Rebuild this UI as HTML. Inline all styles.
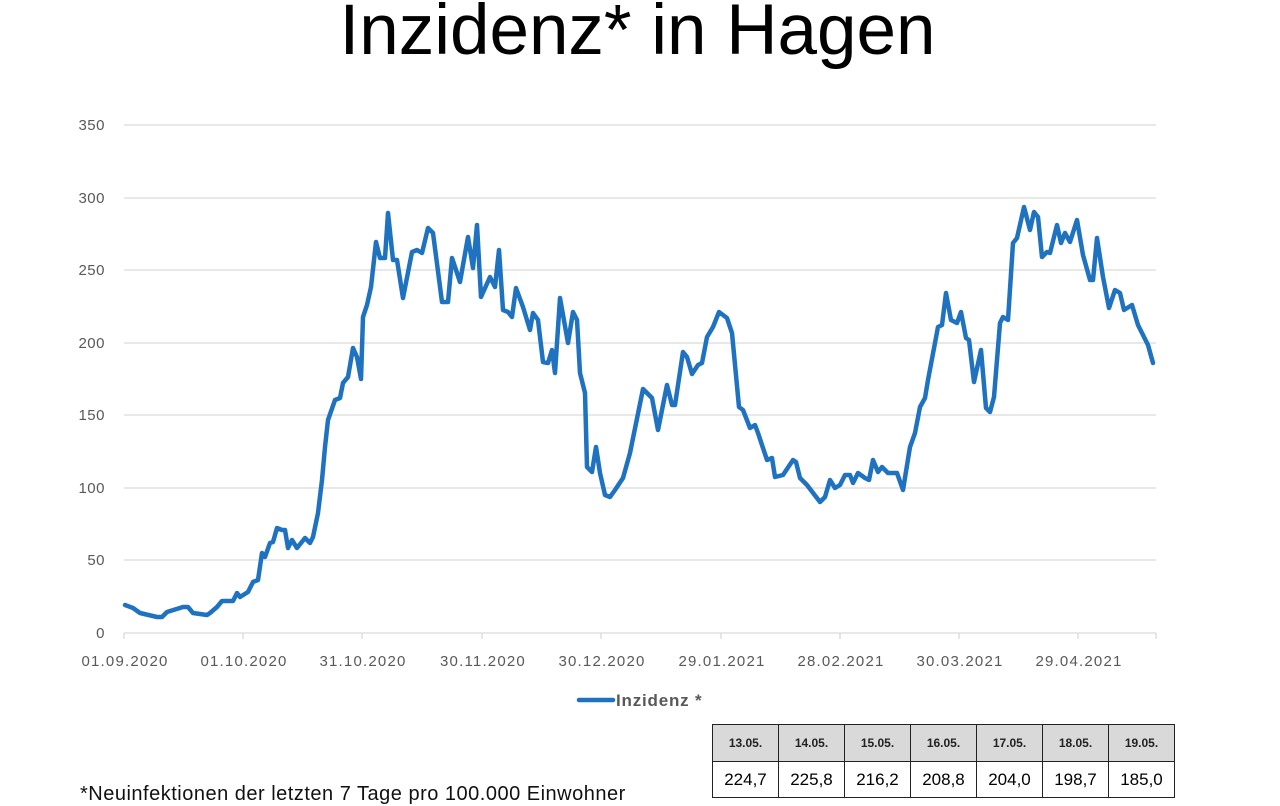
<!DOCTYPE html>
<html><head><meta charset="utf-8"><style>
html,body{margin:0;padding:0;background:#fff;width:1280px;height:800px;overflow:hidden;font-family:"Liberation Sans",sans-serif}
.title{position:absolute;left:0;width:1275px;text-align:center;top:-10px;font-size:71px;color:#000}
table{position:absolute;left:712px;top:724px;border-collapse:collapse;font-size:15px}
td{border:1.5px solid #222;width:65px;text-align:center;padding:0}
tr.h td{background:#d9d9d9;font-size:12px;font-weight:bold;height:36px;color:#222}
tr.v td{height:35px;font-size:17px}
.foot{position:absolute;left:80px;top:783px;font-size:20px;color:#111;letter-spacing:0.5px}
</style></head><body>
<div class="title">Inzidenz* in Hagen</div>
<svg width="1280" height="800" style="position:absolute;left:0;top:0">
<g stroke="#d9d9d9" stroke-width="1.3">
<line x1="124" x2="1156" y1="125" y2="125"/><line x1="124" x2="1156" y1="198" y2="198"/><line x1="124" x2="1156" y1="270" y2="270"/><line x1="124" x2="1156" y1="343" y2="343"/><line x1="124" x2="1156" y1="415" y2="415"/><line x1="124" x2="1156" y1="488" y2="488"/><line x1="124" x2="1156" y1="560" y2="560"/><line x1="124" x2="1156" y1="633" y2="633"/>
<line x1="124" x2="124" y1="633" y2="639"/><line x1="243" x2="243" y1="633" y2="639"/><line x1="362" x2="362" y1="633" y2="639"/><line x1="482" x2="482" y1="633" y2="639"/><line x1="601" x2="601" y1="633" y2="639"/><line x1="721" x2="721" y1="633" y2="639"/><line x1="840" x2="840" y1="633" y2="639"/><line x1="959" x2="959" y1="633" y2="639"/><line x1="1078" x2="1078" y1="633" y2="639"/><line x1="1156" x2="1156" y1="633" y2="639"/>
</g>
<g font-size="15" fill="#595959" text-anchor="end" letter-spacing="0.5">
<text x="105" y="130">350</text><text x="105" y="203">300</text><text x="105" y="275">250</text><text x="105" y="348">200</text><text x="105" y="420">150</text><text x="105" y="493">100</text><text x="105" y="565">50</text><text x="105" y="638">0</text>
</g>
<g font-size="15" fill="#595959" text-anchor="middle" letter-spacing="1.2">
<text x="125" y="666">01.09.2020</text><text x="244" y="666">01.10.2020</text><text x="363" y="666">31.10.2020</text><text x="483" y="666">30.11.2020</text><text x="602" y="666">30.12.2020</text><text x="722" y="666">29.01.2021</text><text x="841" y="666">28.02.2021</text><text x="960" y="666">30.03.2021</text><text x="1079" y="666">29.04.2021</text>
</g>
<polyline fill="none" stroke="#1f72c0" stroke-width="4.5" stroke-linejoin="round" stroke-linecap="round" points="
125,605 133,608 140,613 157,617 162,617 167,612 183,607 188,607 193,613 207,615 210,613 217,607 222,601 233,601 237,593 240,597 248,592 253,582 258,580 262,553 265,557 270,543 273,542 277,528 282,530 285,530 288,548 292,540 297,548 305,538 310,543 313,537 318,513 322,480 325,447 328,420 335,400 340,398 343,383 348,377 353,348 357,357 361,379 363,317 367,305 371,287 376,242 380,258 385,258 388,213 393,260 397,260 403,298 412,252 417,250 422,253 428,228 433,233 442,302 448,302 452,258 460,282 468,237 473,268 477,225 481,297 490,277 495,287 499,250 503,310 508,312 512,317 516,288 523,307 530,330 533,313 538,320 543,362 548,363 552,350 555,373 560,298 568,343 573,312 577,320 580,373 585,393 587,467 592,472 596,447 600,473 605,495 610,497 615,490 623,478 630,453 643,389 652,398 658,430 667,385 672,405 675,405 683,352 687,357 692,374 698,365 702,363 707,337 713,327 719,312 727,318 732,333 739,407 743,410 750,428 755,425 758,433 767,460 772,458 775,477 783,475 793,460 796,462 800,478 807,485 820,502 825,497 830,480 835,488 840,485 845,475 850,475 853,483 858,473 865,478 869,480 873,460 878,472 882,467 888,473 897,473 903,490 910,447 915,433 920,407 925,398 928,380 938,327 942,325 946,293 951,320 957,323 961,312 966,338 969,340 974,382 981,350 986,408 990,412 994,397 1000,323 1003,317 1008,320 1013,243 1017,238 1024,207 1030,230 1034,212 1038,217 1042,257 1047,252 1050,253 1057,225 1061,243 1065,233 1070,242 1077,220 1083,255 1090,280 1093,280 1097,238 1103,277 1109,308 1115,290 1120,293 1124,310 1132,305 1138,325 1148,345 1153,363"/>
<line x1="579" x2="613" y1="700" y2="700" stroke="#1f72c0" stroke-width="4.5" stroke-linecap="round"/>
<text x="616" y="706" font-size="17" font-weight="bold" fill="#595959" letter-spacing="0.8">Inzidenz *</text>
</svg>
<table>
<tr class="h"><td>13.05.</td><td>14.05.</td><td>15.05.</td><td>16.05.</td><td>17.05.</td><td>18.05.</td><td>19.05.</td></tr>
<tr class="v"><td>224,7</td><td>225,8</td><td>216,2</td><td>208,8</td><td>204,0</td><td>198,7</td><td>185,0</td></tr>
</table>
<div class="foot">*Neuinfektionen der letzten 7 Tage pro 100.000 Einwohner</div>
</body></html>
